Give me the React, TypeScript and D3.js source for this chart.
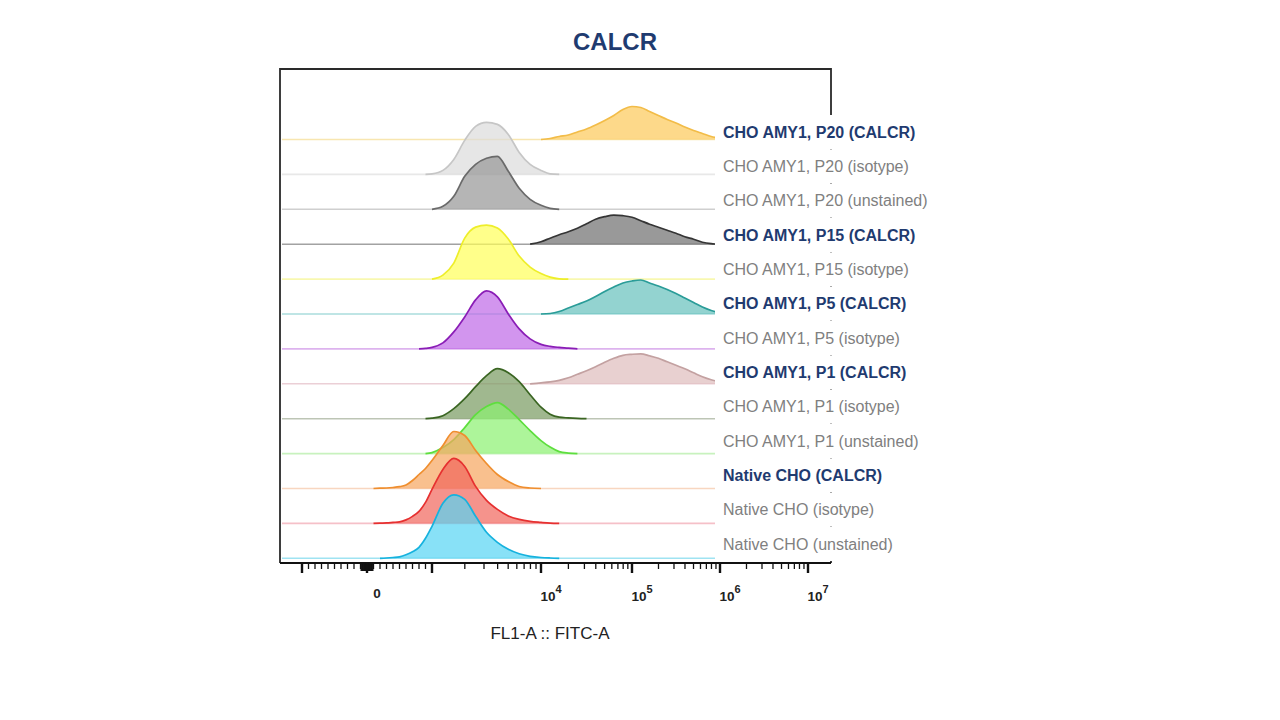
import React from "react";
import * as d3 from "d3";

// ---------- DATA ----------
const chartTitle = "CALCR";
const xAxisTitle = "FL1-A :: FITC-A";

const sampleLabels = [
  "CHO AMY1, P20 (CALCR)",
  "CHO AMY1, P20 (isotype)",
  "CHO AMY1, P20 (unstained)",
  "CHO AMY1, P15 (CALCR)",
  "CHO AMY1, P15 (isotype)",
  "CHO AMY1, P5 (CALCR)",
  "CHO AMY1, P5 (isotype)",
  "CHO AMY1, P1 (CALCR)",
  "CHO AMY1, P1 (isotype)",
  "CHO AMY1, P1 (unstained)",
  "Native CHO (CALCR)",
  "Native CHO (isotype)",
  "Native CHO (unstained)",
];
const labelIsStained = [true, false, false, true, false, true, false, true, false, false, true, false, false];

// bin centres, in display units (biexponential: -1..1 linear = -1000..1000, then decades)
const binT = [
  0.0, 0.1, 0.2, 0.3, 0.4, 0.5, 0.6, 0.7, 0.8, 0.9,
  1.0, 1.1, 1.2, 1.3, 1.4, 1.5, 1.6, 1.7, 1.8, 1.9,
  2.0, 2.1, 2.2, 2.3, 2.4, 2.5, 2.6, 2.7, 2.8, 2.9,
  3.0, 3.1, 3.2, 3.3, 3.4, 3.5, 3.6, 3.7, 3.8, 3.9, 4.0,
];

const p20Calcr = [0,0,0,0,0,0,0,0,0,0, 0,0,0,0,0,0,0,0,0,0, 0,1,3,4.5,7.5,10.5,14.5,19,24,30, 33,32,28,24,20,16.5,12.5,9,6,3,1];
const p20Isotype = [0,0,0,0,0,0,0,0,0,0, 0.5,4,15,34,48,52,50,40,22,10, 4,0.5,0,0,0,0,0,0,0,0, 0,0,0,0,0,0,0,0,0,0,0];
const p20Unstained = [0,0,0,0,0,0,0,0,0,0, 0,3,13,33,45,51,53,38,21,10, 4,1,0,0,0,0,0,0,0,0, 0,0,0,0,0,0,0,0,0,0,0];
const p15Calcr = [0,0,0,0,0,0,0,0,0,0, 0,0,0,0,0,0,0,0,0,0, 2.5,6,9.5,12.5,16,20.5,25,27.5,29,28.5, 27,23.5,20,17,14,11,7.5,5,2,0.5,0];
const p15Isotype = [0,0,0,0,0,0,0,0,0,0, 0,4,16,41,52,54,51,40,23,12, 5.5,2,0.3,0,0,0,0,0,0,0, 0,0,0,0,0,0,0,0,0,0,0];
const p5Calcr = [0,0,0,0,0,0,0,0,0,0, 0,0,0,0,0,0,0,0,0,0, 0,0.5,2.5,6,9.5,13,17.5,22.5,27,31, 33,34,31,28,24.5,20.5,16,11.5,7,3.5,1];
const p5Isotype = [0,0,0,0,0,0,0,0,0,0.5, 1.5,6,17,32,49,58,52,35,20,10, 4.5,2.5,1.5,0.8,0,0,0,0,0,0, 0,0,0,0,0,0,0,0,0,0,0];
const p1Calcr = [0,0,0,0,0,0,0,0,0,0, 0,0,0,0,0,0,0,0,0,0, 1,2,3.5,6,9.5,13,17,21.5,25.5,28.5, 29.5,30,28,25.5,22,18.5,15,11,7,4,2];
const p1Isotype = [0,0,0,0,0,0,0,0,0,0, 0.5,3,10,20,32,43,50,46,37,24, 11.5,4.5,1.5,0.8,0.3,0,0,0,0,0, 0,0,0,0,0,0,0,0,0,0,0];
const p1Unstained = [0,0,0,0,0,0,0,0,0,0, 1,6,14,26,39,47,51,44.5,34,23, 13,6.5,2,0.5,0,0,0,0,0,0, 0,0,0,0,0,0,0,0,0,0,0];
const nativeCalcr = [0,0,0.3,0.5,1,1.8,3.5,8,14,20, 28,43,57,53,38,25,14,7,2,0.5, 0,0,0,0,0,0,0,0,0,0, 0,0,0,0,0,0,0,0,0,0,0];
const nativeIsotype = [0,0,0.3,0.5,1,1.5,3.5,7,12,21, 34,54,65,57,37,23,14,7.5,4,2, 1,0.3,0,0,0,0,0,0,0,0, 0,0,0,0,0,0,0,0,0,0,0];
const nativeUnstained = [0,0,0,0.3,0.8,1.5,3.5,6.5,11,20, 32,55,63.5,59,42,26,16,9,4.5,2, 0.8,0.3,0,0,0,0,0,0,0,0, 0,0,0,0,0,0,0,0,0,0,0];

const seriesCounts = [
  p20Calcr, p20Isotype, p20Unstained, p15Calcr, p15Isotype, p5Calcr, p5Isotype,
  p1Calcr, p1Isotype, p1Unstained, nativeCalcr, nativeIsotype, nativeUnstained,
];

const fillColors = ["#FCC959", "#DBDBDB", "#959595", "#6D6D6D", "#FFFF58", "#65C0BC", "#BF68E7",
  "#DEBCBC", "#779A60", "#8AF16F", "#F6A55E", "#F1655B", "#55D4F4"];
const strokeColors = ["#F2BC48", "#C6C6C6", "#6A6A6A", "#353535", "#EEEE2A", "#2A9C98", "#8A1DB6",
  "#C3A1A1", "#3A6522", "#5EDE3E", "#EF8E2E", "#E63030", "#16B2DE"];
const baselineColors = ["#F8E6B0", "#E8E8E8", "#CFCFCF", "#A2A2A2", "#F8F8B0", "#AADCDC", "#DDB3EE",
  "#EBCFD6", "#BDC5B5", "#C8F2BE", "#F8D6C0", "#F5C0C8", "#9FE3F2"];

// axis ticks (data values)
const majorTickValues = [-1000, 0, 1000, 1e4, 1e5, 1e6, 1e7];
const labeledTickValues = [0, 1e4, 1e5, 1e6, 1e7];

// ---------- LAYOUT ----------
const W = 1280;
const H = 720;
const box = { left: 280, top: 69, right: 831, bottom: 563 };
const histRight = 715;
const FONT = "'Liberation Sans', Arial, Helvetica, sans-serif";

// biexponential-like display transform
const toDisplay = (v: number) => (Math.abs(v) <= 1000 ? v / 1000 : Math.sign(v) * (Math.log10(Math.abs(v)) - 2));

const xScale = d3.scaleLinear().domain([-1, 1, 2, 3, 4, 5]).range([302, 432, 541, 632, 720, 808]);
const xv = (v: number) => xScale(toDisplay(v));

const rowScale = d3.scalePoint<string>().domain(sampleLabels).range([139.5, 558.3]);
const labelScale = d3.scalePoint<string>().domain(sampleLabels).range([132, 544]);
const hScale = d3.scaleLinear().domain([0, 70]).range([0, 70]);

function minorTickValues(): number[] {
  const out: number[] = [];
  for (let k = 1; k <= 9; k++) { out.push(-k * 100, k * 100, -k * 10, k * 10); }
  for (let e = 3; e <= 6; e++) for (let k = 2; k <= 9; k++) out.push(k * Math.pow(10, e));
  return out;
}

export default function App() {
  const rows = sampleLabels.map((lab, i) => {
    const counts = seriesCounts[i];
    let first = counts.findIndex((c) => c > 0);
    let last = counts.length - 1 - [...counts].reverse().findIndex((c) => c > 0);
    first = Math.max(0, first - 1);
    last = Math.min(counts.length - 1, last + 1);
    const pts = d3.range(first, last + 1).map((j) => ({ t: binT[j], c: counts[j] }));
    const base = rowScale(lab)!;
    const area = d3.area<{ t: number; c: number }>()
      .x((d) => xScale(d.t))
      .y0(base)
      .y1((d) => base - hScale(d.c))
      .curve(d3.curveMonotoneX);
    const line = d3.line<{ t: number; c: number }>()
      .x((d) => xScale(d.t))
      .y((d) => base - hScale(d.c))
      .curve(d3.curveMonotoneX);
    return { lab, i, base, areaD: area(pts)!, lineD: line(pts)! };
  });

  const minors = minorTickValues();

  return (
    <svg width={W} height={H} style={{ position: "absolute", left: 0, top: 0, background: "#fff" }}
      fontFamily={FONT}>
      <defs>
        <clipPath id="histClip">
          <rect x={box.left + 1} y={box.top + 1} width={histRight - box.left - 1} height={box.bottom - box.top - 1} />
        </clipPath>
      </defs>
      <rect x={0} y={0} width={W} height={H} fill="#fff" />

      {/* title */}
      <text x={615} y={50} textAnchor="middle" fontSize={24} fontWeight="bold" fill="#1F3B70">{chartTitle}</text>

      {/* plot frame */}
      <path d={`M${box.left},${box.bottom} V${box.top} H${box.right} V${box.bottom}`} fill="none" stroke="#2a2a2a" strokeWidth={1.8} />
      <line x1={box.left} x2={box.right} y1={box.bottom} y2={box.bottom} stroke="#111" strokeWidth={1.8} />

      {/* histograms, back to front */}
      <g clipPath="url(#histClip)">
        {rows.map((r) => (
          <g key={r.lab}>
            <line x1={box.left + 2} x2={histRight} y1={r.base} y2={r.base} stroke={baselineColors[r.i]} strokeWidth={1.6} />
            <path d={r.areaD} fill={fillColors[r.i]} fillOpacity={0.7} stroke="none" />
            <path d={r.lineD} fill="none" stroke={strokeColors[r.i]} strokeWidth={1.7} strokeLinejoin="round" />
          </g>
        ))}
      </g>

      {/* legend labels with white boxes */}
      {sampleLabels.map((lab, i) => {
        const y = labelScale(lab)!;
        return (
          <g key={lab}>
            <rect x={histRight + 1} y={y - 17} width={235} height={34} fill="#fff" />
            <text x={723} y={y} dy="0.35em" fontSize={16}
              fontWeight={labelIsStained[i] ? "bold" : "normal"}
              fill={labelIsStained[i] ? "#1F3B70" : "#808080"}>{lab}</text>
          </g>
        );
      })}

      {/* x axis ticks */}
      <g>
        {minors.map((v) => (
          <line key={"m" + v} x1={xv(v)} x2={xv(v)} y1={box.bottom} y2={box.bottom + (Math.abs(v) < 100 ? 8 : 6)} stroke="#111" strokeWidth={1.3} />
        ))}
        {majorTickValues.map((v) => (
          <line key={"M" + v} x1={xv(v)} x2={xv(v)} y1={box.bottom} y2={box.bottom + 10} stroke="#111" strokeWidth={2.4} />
        ))}
        {labeledTickValues.map((v) => (
          <text key={"l" + v} x={xv(v) + 10} y={v === 0 ? 598 : 601} textAnchor="middle" fontSize={13.5} fontWeight="bold" fill="#222">
            {v === 0 ? "0" : (
              <>
                <tspan>10</tspan>
                <tspan dy={-8} fontSize={11}>{String(Math.round(Math.log10(v)))}</tspan>
              </>
            )}
          </text>
        ))}
      </g>
      <text x={550} y={639} textAnchor="middle" fontSize={17} fill="#222">{xAxisTitle}</text>
    </svg>
  );
}
